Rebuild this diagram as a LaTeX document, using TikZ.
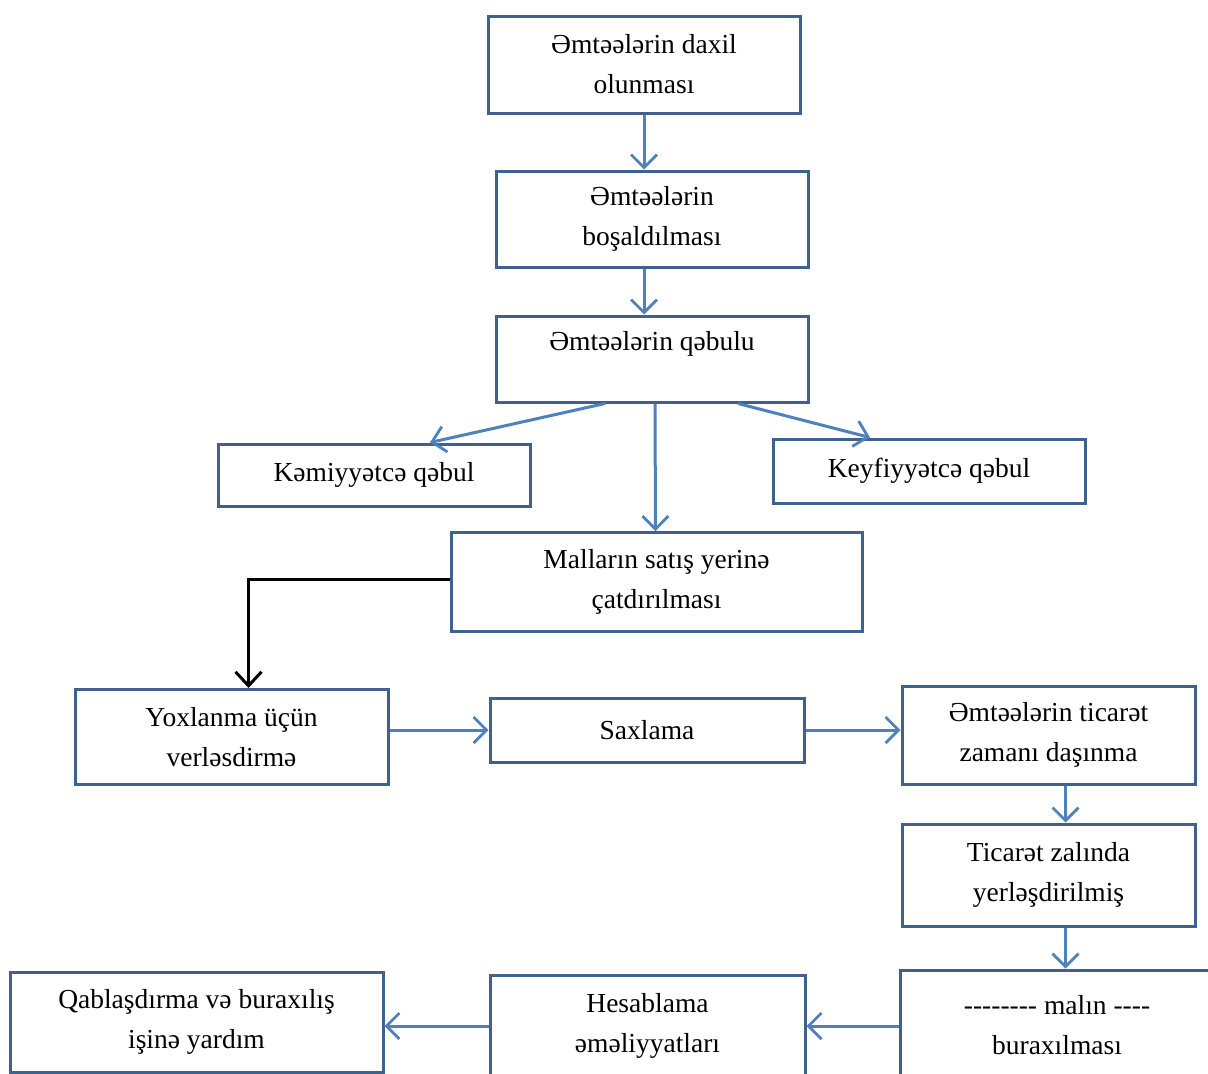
\documentclass[tikz,border=0pt]{standalone}
\usepackage{fontspec}
\setmainfont{Liberation Serif}
\usetikzlibrary{arrows.meta}
\definecolor{boxc}{HTML}{41618D}
\definecolor{arrc}{HTML}{4F81BD}
\newcommand\hy{\mbox{-}}
\begin{document}
\begin{tikzpicture}[x=1pt,y=-1pt,
  box/.style={draw=boxc,line width=3pt,fill=white,align=center,inner sep=0pt,
    font=\fontsize{27.5}{40}\selectfont},
  arr/.style={draw=arrc,line width=3pt,-{Straight Barb[length=13pt,width=26pt,line width=2.8pt]}},
  barr/.style={draw=black,line width=3pt,-{Straight Barb[length=14pt,width=26pt,line width=3pt]}}]
\useasboundingbox[fill=white] (0,0) rectangle (1208,1074);
\node[box,minimum width=312pt,minimum height=97pt] (b1) at (644,64.5) {Əmtəələrin daxil\\olunması};
\node[box,minimum width=312pt,minimum height=96pt] (b2) at (652,219) {Əmtəələrin\\boşaldılması};
\node[box,minimum width=312pt,minimum height=86pt] (b3) at (652,359) {Əmtəələrin qəbulu\\[-16pt]\strut};
\node[box,minimum width=312pt,minimum height=62pt] (kem) at (374,475) {Kəmiyyətcə qəbul};
\node[box,minimum width=312pt,minimum height=64pt] (key) at (929,471) {Keyfiyyətcə qəbul};
\node[box,minimum width=411pt,minimum height=99pt] (mall) at (656.5,582) {Malların satış yerinə\\çatdırılması};
\node[box,minimum width=313pt,minimum height=95pt] (yox) at (231.5,737) {Yoxlanma üçün\\verləsdirmə};
\node[box,minimum width=314pt,minimum height=64pt] (sax) at (647,730) {Saxlama};
\node[box,minimum width=293pt,minimum height=98pt] (b9) at (1048.5,735) {Əmtəələrin ticarət\\zamanı daşınma};
\node[box,minimum width=293pt,minimum height=102pt] (b10) at (1048.5,875) {Ticarət zalında\\yerləşdirilmiş};
\node[box,minimum width=314pt,minimum height=110pt] (b11) at (1057,1025) {\hy\hy\hy\hy\hy\hy\hy\hy{} malın \hy\hy\hy\hy\\buraxılması};
\node[box,minimum width=315pt,minimum height=101pt] (hes) at (647.5,1026) {Hesablama\\əməliyyatları};
\node[box,minimum width=373pt,minimum height=100pt] (qab) at (196.5,1022) {Qablaşdırma və buraxılış\\işinə yardım};
% connectors
\draw[arr] (b1.south) -- (b1.south |- b2.north);
\draw[arr] (b1.south |- b2.south) -- (b1.south |- b3.north);
\draw[arr] ([xshift=-47pt]b3.south) -- ([xshift=56pt]kem.north);
\draw[arr] ([xshift=3pt]b3.south) -- ([xshift=-1pt]mall.north);
\draw[arr] ([xshift=86pt]b3.south) -- ([xshift=-59pt]key.north);
\draw[barr] ([yshift=3pt]mall.west) -| ([xshift=17pt]yox.north);
\draw[arr] (sax.west -| yox.east) -- (sax.west);
\draw[arr] (sax.east) -- (sax.east -| b9.west);
\draw[arr] ([xshift=17pt]b9.south) -- ([xshift=17pt]b10.north);
\draw[arr] ([xshift=17pt]b10.south) -- ([xshift=17pt]b10.south |- b11.north);
\draw[arr] (hes.east -| b11.west) -- (hes.east);
\draw[arr] (hes.west) -- (hes.west -| qab.east);
\end{tikzpicture}
\end{document}
